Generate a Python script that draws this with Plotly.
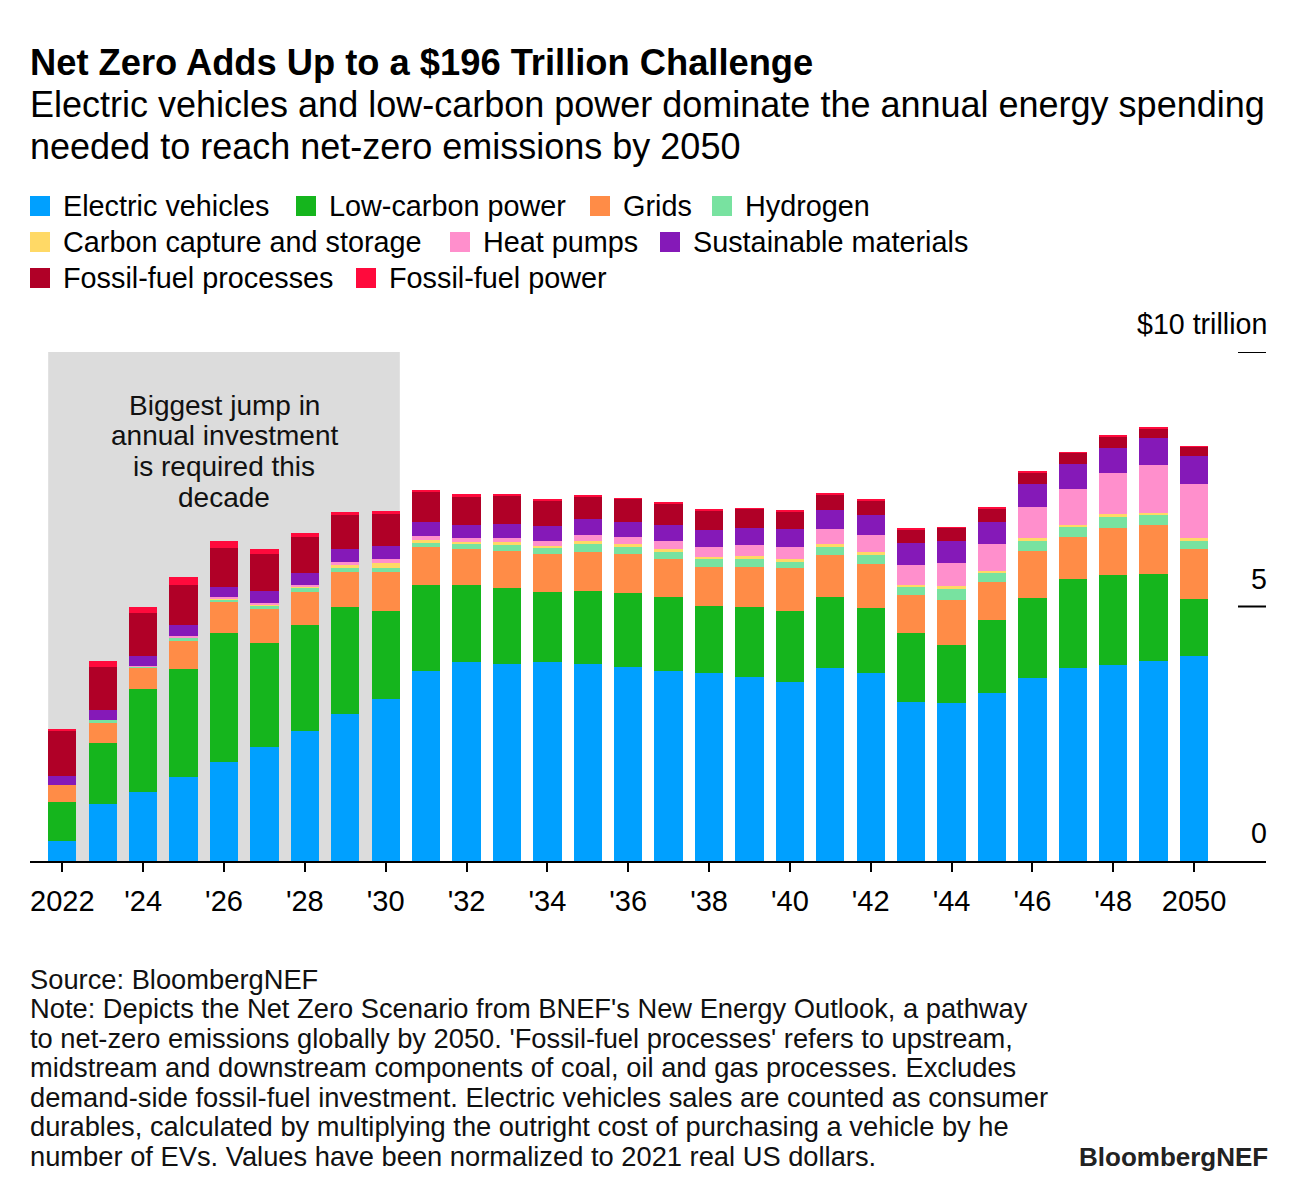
import plotly.graph_objects as go

years = list(range(2022, 2051))

electric_vehicles = [0.40, 1.12, 1.36, 1.66, 1.94, 2.23, 2.55, 2.88, 3.18, 3.73, 3.90, 3.87, 3.90, 3.88, 3.82,
                     3.73, 3.69, 3.61, 3.52, 3.79, 3.69, 3.12, 3.11, 3.30, 3.59, 3.79, 3.86, 3.92, 4.02]
low_carbon_power = [0.76, 1.20, 2.02, 2.12, 2.54, 2.06, 2.09, 2.11, 1.74, 1.69, 1.52, 1.50, 1.38, 1.42, 1.45,
                    1.45, 1.32, 1.38, 1.40, 1.40, 1.28, 1.36, 1.13, 1.43, 1.58, 1.75, 1.76, 1.72, 1.13]
grids = [0.33, 0.39, 0.42, 0.54, 0.60, 0.66, 0.65, 0.69, 0.76, 0.75, 0.71, 0.73, 0.76, 0.77, 0.77,
         0.76, 0.76, 0.79, 0.83, 0.83, 0.87, 0.74, 0.89, 0.75, 0.93, 0.83, 0.92, 0.97, 0.98]
hydrogen = [0.00, 0.06, 0.03, 0.08, 0.05, 0.07, 0.08, 0.07, 0.08, 0.07, 0.09, 0.10, 0.10, 0.15, 0.12,
            0.13, 0.16, 0.15, 0.13, 0.14, 0.18, 0.16, 0.22, 0.17, 0.19, 0.19, 0.22, 0.18, 0.16]
carbon_capture = [0.00, 0.00, 0.00, 0.00, 0.01, 0.01, 0.02, 0.07, 0.10, 0.07, 0.05, 0.06, 0.05, 0.07, 0.07,
                  0.05, 0.05, 0.06, 0.05, 0.07, 0.05, 0.05, 0.05, 0.05, 0.05, 0.05, 0.05, 0.05, 0.05]
heat_pumps = [0.00, 0.00, 0.01, 0.03, 0.05, 0.04, 0.03, 0.06, 0.07, 0.08, 0.07, 0.08, 0.10, 0.12, 0.13,
              0.16, 0.19, 0.21, 0.24, 0.29, 0.33, 0.39, 0.46, 0.53, 0.61, 0.70, 0.81, 0.94, 1.07]
sustainable_materials = [0.18, 0.20, 0.19, 0.20, 0.20, 0.24, 0.24, 0.25, 0.26, 0.27, 0.27, 0.29, 0.29, 0.31, 0.31,
                         0.33, 0.34, 0.35, 0.36, 0.37, 0.39, 0.42, 0.42, 0.44, 0.45, 0.48, 0.50, 0.53, 0.55]
fossil_processes = [0.89, 0.85, 0.84, 0.79, 0.75, 0.73, 0.71, 0.67, 0.63, 0.59, 0.55, 0.56, 0.51, 0.45, 0.45,
                    0.42, 0.38, 0.37, 0.34, 0.32, 0.30, 0.28, 0.27, 0.26, 0.24, 0.23, 0.22, 0.19, 0.18]
fossil_power = [0.02, 0.11, 0.13, 0.15, 0.15, 0.09, 0.07, 0.06, 0.05, 0.04, 0.06, 0.02, 0.01, 0.03, 0.01,
                0.01, 0.01, 0.01, 0.02, 0.01, 0.01, 0.01, 0.01, 0.01, 0.01, 0.01, 0.01, 0.01, 0.01]

series_names = ["Electric vehicles", "Low-carbon power", "Grids", "Hydrogen",
                "Carbon capture and storage", "Heat pumps", "Sustainable materials",
                "Fossil-fuel processes", "Fossil-fuel power"]
series_values = [electric_vehicles, low_carbon_power, grids, hydrogen, carbon_capture,
                 heat_pumps, sustainable_materials, fossil_processes, fossil_power]
series_colors = ["#00a0ff", "#15b51d", "#ff8c47", "#78e2a0", "#ffd966",
                 "#ff8fcc", "#8519b8", "#b00027", "#ff0a3c"]

tick_vals = list(range(2022, 2051, 2))
tick_text = ["2022"] + ["'" + str(y)[2:] for y in tick_vals[1:-1]] + ["2050"]

y_ticks = [0, 5, 10]
y_tick_labels = ["0", "5", "$10 trillion"]

title_text = "Net Zero Adds Up to a $196 Trillion Challenge"
subtitle_lines = ["Electric vehicles and low-carbon power dominate the annual energy spending",
                  "needed to reach net-zero emissions by 2050"]
callout_lines = ["Biggest jump in", "annual investment", "is required this", "decade"]
footer_lines = ["Source: BloombergNEF",
                "Note: Depicts the Net Zero Scenario from BNEF's New Energy Outlook, a pathway",
                "to net-zero emissions globally by 2050. 'Fossil-fuel processes' refers to upstream,",
                "midstream and downstream components of coal, oil and gas processes. Excludes",
                "demand-side fossil-fuel investment. Electric vehicles sales are counted as consumer",
                "durables, calculated by multiplying the outright cost of purchasing a vehicle by he",
                "number of EVs. Values have been normalized to 2021 real US dollars."]

FONT = "Liberation Sans, Arial, sans-serif"
OFF = 8  # page body margin
W, H = 1296 - OFF, 1198 - OFF
L, R = 30 - OFF, 30
T = 352 - OFF
B = H - (861 - OFF)
PW, PH = W - L - R, H - T - B


def px(xr):
    # reference screenshot x -> paper coordinate
    return (xr - OFF - L) / PW


def py(yr):
    # reference screenshot y -> paper coordinate
    return (H - B - (yr - OFF)) / PH


fig = go.Figure()
for name, vals, col in zip(series_names, series_values, series_colors):
    fig.add_trace(go.Bar(x=years, y=vals, name=name, marker_color=col,
                         marker_line_width=0, showlegend=False))

shapes = []
annotations = []

# shaded decade area
shapes.append(dict(type="rect", xref="x", yref="y", x0=2021.65, x1=2030.35, y0=0, y1=10,
                   fillcolor="#dcdcdc", line_width=0, layer="below"))
for i, line in enumerate(callout_lines):
    annotations.append(dict(xref="x", yref="paper", x=2026, y=py(405 + 30.7 * i), text=line,
                            showarrow=False, xanchor="center", yanchor="middle",
                            font=dict(size=28, color="#111", family=FONT)))

# y ticks on right side
for v, lab in zip(y_ticks, y_tick_labels):
    if v > 0:
        shapes.append(dict(type="line", xref="paper", yref="y", x0=px(1238), x1=1, y0=v, y1=v,
                           line=dict(color="black", width=2)))
    annotations.append(dict(xref="paper", yref="y", x=1, y=v, text=lab, showarrow=False,
                            xanchor="right", yanchor="bottom", yshift=10, xshift=3,
                            font=dict(size=28.6, color="black", family=FONT)))

# title & subtitle
annotations.append(dict(xref="paper", yref="paper", x=px(28), y=py(62), text="<b>" + title_text + "</b>",
                        showarrow=False, xanchor="left", yanchor="middle",
                        font=dict(size=36.3, color="black", family=FONT)))
for i, line in enumerate(subtitle_lines):
    annotations.append(dict(xref="paper", yref="paper", x=px(28), y=py(105 + 41 * i), text=line,
                            showarrow=False, xanchor="left", yanchor="middle",
                            font=dict(size=36, color="black", family=FONT)))

# legend (manual)
legend_pos = [(30, 206), (296, 206), (590, 206), (712, 206),
              (30, 242), (450, 242), (660, 242),
              (30, 278), (356, 278)]
for (lx, ly), name, col in zip(legend_pos, series_names, series_colors):
    shapes.append(dict(type="rect", xref="paper", yref="paper", x0=px(lx), x1=px(lx + 20),
                       y0=py(ly + 10), y1=py(ly - 10), fillcolor=col, line_width=0))
    annotations.append(dict(xref="paper", yref="paper", x=px(lx + 31), y=py(ly), text=name,
                            showarrow=False, xanchor="left", yanchor="middle",
                            font=dict(size=28.8, color="black", family=FONT)))

# footer
for i, line in enumerate(footer_lines):
    annotations.append(dict(xref="paper", yref="paper", x=px(28), y=py(979 + 29.5 * i), text=line,
                            showarrow=False, xanchor="left", yanchor="middle", align="left",
                            font=dict(size=27.3, color="#111", family=FONT)))
annotations.append(dict(xref="paper", yref="paper", x=1, y=py(1157), text="<b>BloombergNEF</b>",
                        showarrow=False, xanchor="right", yanchor="middle", xshift=4,
                        font=dict(size=26, color="#222", family=FONT)))

fig.update_layout(
    width=W, height=H,
    margin=dict(l=L, r=R, t=T, b=B, pad=0),
    barmode="stack", bargap=0.3,
    plot_bgcolor="white", paper_bgcolor="white",
    font=dict(family=FONT, color="black"),
    xaxis=dict(range=[2021.2, 2051.78], tickvals=tick_vals, ticktext=tick_text,
               showline=True, linecolor="black", linewidth=2, ticks="outside", ticklen=9,
               tickwidth=1.5, tickcolor="black", showgrid=False, zeroline=False,
               ticklabelstandoff=4,
               tickfont=dict(size=29, family=FONT, color="black"), fixedrange=True),
    yaxis=dict(range=[0, 10], showticklabels=False, showgrid=False, zeroline=False,
               showline=False, fixedrange=True),
    shapes=shapes, annotations=annotations,
    showlegend=False,
)

fig.write_html("out.html")
